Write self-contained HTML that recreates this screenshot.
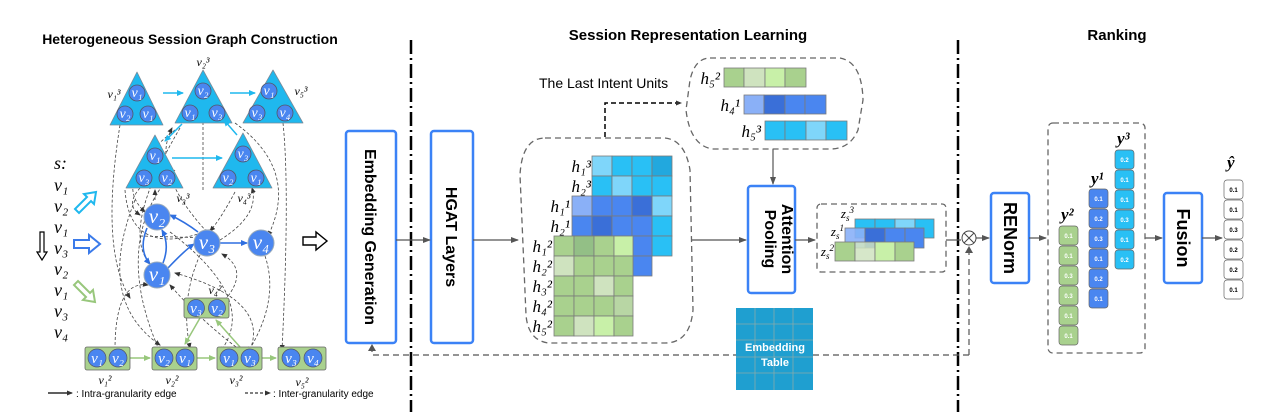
<!DOCTYPE html>
<html><head><meta charset="utf-8"><style>
body{margin:0;background:#fff}
svg{display:block}
text{font-family:"Liberation Sans",sans-serif}
.m text, text.m{font-family:"Liberation Serif","DejaVu Serif",serif;font-style:italic}
</style></head><body>
<svg width="1280" height="416" viewBox="0 0 1280 416" xmlns="http://www.w3.org/2000/svg">
<defs>
<marker id="a" markerWidth="8" markerHeight="8" refX="7" refY="4" orient="auto" markerUnits="userSpaceOnUse"><path d="M0,1 L8,4 L0,7z" fill="#555"/></marker>
<marker id="ak" markerWidth="6" markerHeight="6" refX="5" refY="3" orient="auto" markerUnits="userSpaceOnUse"><path d="M0,0.5 L6,3 L0,5.5z" fill="#333"/></marker>
<marker id="ac" markerWidth="7" markerHeight="7" refX="6" refY="3.5" orient="auto" markerUnits="userSpaceOnUse"><path d="M0,0.5 L7,3.5 L0,6.5z" fill="#1fb8ee"/></marker>
<marker id="ab" markerWidth="7" markerHeight="7" refX="6" refY="3.5" orient="auto" markerUnits="userSpaceOnUse"><path d="M0,0.5 L7,3.5 L0,6.5z" fill="#2f6fe0"/></marker>
<marker id="ag" markerWidth="7" markerHeight="7" refX="6" refY="3.5" orient="auto" markerUnits="userSpaceOnUse"><path d="M0,0.5 L7,3.5 L0,6.5z" fill="#98c77c"/></marker>
</defs>

<text x="190" y="44" font-size="14" font-weight="bold" text-anchor="middle">Heterogeneous Session Graph Construction</text>
<text x="688" y="40" font-size="15" font-weight="bold" text-anchor="middle">Session Representation Learning</text>
<text x="1117" y="40" font-size="15" font-weight="bold" text-anchor="middle">Ranking</text>

<line x1="411" y1="40" x2="411" y2="412" stroke="#000" stroke-width="2.5" stroke-dasharray="14,4,2,4"/>
<line x1="958" y1="40" x2="958" y2="412" stroke="#000" stroke-width="2.5" stroke-dasharray="14,4,2,4"/>

<g fill="none" stroke="#444" stroke-width="0.8" stroke-dasharray="3,2" marker-end="url(#ak)">
<path d="M120,125 Q100,250 130,298"/>
<path d="M175,130 Q110,180 145,212"/>
<path d="M180,128 Q120,230 150,264"/>
<path d="M203,190 L203,88"/>
<path d="M235,123 Q300,170 268,236"/>
<path d="M283,123 Q290,190 282,350"/>
<path d="M207,232 Q150,170 172,128"/>
<path d="M140,188 Q125,205 140,215"/>
<path d="M155,200 L155,190"/>
<path d="M235,192 Q220,220 210,231"/>
<path d="M175,170 Q110,240 160,352"/>
<path d="M115,350 Q115,280 148,285"/>
<path d="M200,255 Q180,300 190,348"/>
<path d="M225,300 Q250,270 222,254"/>
<path d="M265,256 Q280,300 248,352"/>
<path d="M170,232 Q260,300 220,352"/>
<path d="M250,350 Q270,300 175,273"/>
<path d="M220,240 Q260,215 252,188"/>
<path d="M135,200 Q95,300 160,345"/>
<path d="M125,190 Q130,260 210,230"/>
<path d="M240,350 Q200,320 170,285"/>
<path d="M140,236 L210,238"/>
</g>

<g fill="#1fb8ee" stroke="#7a8a99" stroke-width="0.8" stroke-linejoin="round">
<path d="M137,72 L163,125 L110,125Z"/>
<path d="M203,70 L232,123 L175,123Z"/>
<path d="M273,70 L303,123 L243,123Z"/>
<path d="M155,135 L183,188 L126,188Z"/>
<path d="M243,133 L272,188 L213,188Z"/>
</g>
<g stroke="#1fb8ee" stroke-width="1.5" fill="none">
<line x1="163" y1="93" x2="183" y2="93" marker-end="url(#ac)"/>
<line x1="230" y1="93" x2="255" y2="93" marker-end="url(#ac)"/>
<line x1="182" y1="124" x2="165" y2="141" marker-end="url(#ac)"/>
<line x1="172" y1="158" x2="222" y2="158" marker-end="url(#ac)"/>
<line x1="237" y1="135" x2="224" y2="120" marker-end="url(#ac)"/>
</g>
<g fill="#4a86f0" stroke="#556" stroke-width="0.8">
<circle cx="137" cy="93" r="8"/><circle cx="125" cy="114" r="8"/><circle cx="148" cy="114" r="8"/>
<circle cx="203" cy="91" r="8"/><circle cx="190" cy="113" r="8"/><circle cx="217" cy="113" r="8"/>
<circle cx="269" cy="91" r="8"/><circle cx="257" cy="113" r="8"/><circle cx="285" cy="113" r="8"/>
<circle cx="155" cy="156" r="8"/><circle cx="144" cy="178" r="8"/><circle cx="167" cy="178" r="8"/>
<circle cx="243" cy="154" r="8"/><circle cx="228" cy="178" r="8"/><circle cx="256" cy="178" r="8"/>
</g>
<g class="m" fill="#fff" font-size="14" text-anchor="middle">
<text x="137" y="97">v₁</text><text x="125" y="118">v₂</text><text x="148" y="118">v₁</text>
<text x="203" y="95">v₂</text><text x="190" y="117">v₁</text><text x="217" y="117">v₃</text>
<text x="269" y="95">v₁</text><text x="257" y="117">v₃</text><text x="285" y="117">v₄</text>
<text x="155" y="160">v₁</text><text x="144" y="182">v₃</text><text x="167" y="182">v₂</text>
<text x="243" y="158">v₃</text><text x="228" y="182">v₂</text><text x="256" y="182">v₁</text>
</g>
<g class="m" font-size="12" text-anchor="middle">
<text x="114" y="98">v₁³</text><text x="203" y="66">v₂³</text><text x="301" y="95">v₅³</text>
<text x="183" y="202">v₃³</text><text x="244" y="202">v₄³</text>
</g>

<g stroke="#2f6fe0" stroke-width="1.6" fill="none">
<path d="M147,228 Q138,250 150,264" marker-end="url(#ab)"/>
<path d="M163,263 Q170,245 162,230" marker-end="url(#ab)"/>
<path d="M168,268 Q185,250 194,244" marker-end="url(#ab)"/>
<path d="M198,232 Q185,222 170,215" marker-end="url(#ab)"/>
<line x1="220" y1="243" x2="247" y2="243" marker-end="url(#ab)"/>
</g>
<g fill="#4a86f0" stroke="#9ab" stroke-width="1">
<circle cx="157" cy="217" r="13"/><circle cx="207" cy="243" r="13"/><circle cx="261" cy="243" r="13"/><circle cx="157" cy="275" r="13"/>
</g>
<g class="m" fill="#fff" font-size="21" text-anchor="middle">
<text x="157" y="223">v₂</text><text x="207" y="249">v₃</text><text x="261" y="249">v₄</text><text x="157" y="281">v₁</text>
</g>

<g stroke="#98c77c" stroke-width="1.5">
<line x1="130" y1="358" x2="150" y2="358" marker-end="url(#ag)"/>
<line x1="197" y1="358" x2="215" y2="358" marker-end="url(#ag)"/>
<line x1="262" y1="358" x2="276" y2="358" marker-end="url(#ag)"/>
<line x1="200" y1="318" x2="185" y2="344" marker-end="url(#ag)"/>
<line x1="240" y1="347" x2="216" y2="320" marker-end="url(#ag)"/>
</g>
<g fill="#a9d18e" stroke="#666" stroke-width="0.8">
<rect x="184" y="298" width="45" height="20" rx="2"/>
<rect x="85" y="347" width="45" height="23" rx="2"/>
<rect x="152" y="347" width="45" height="23" rx="2"/>
<rect x="217" y="347" width="45" height="23" rx="2"/>
<rect x="278" y="347" width="48" height="23" rx="2"/>
</g>
<g fill="#4a86f0" stroke="#556" stroke-width="0.7">
<circle cx="196" cy="308" r="8.5"/><circle cx="217" cy="308" r="8.5"/>
<circle cx="97" cy="358" r="9"/><circle cx="118" cy="358" r="9"/>
<circle cx="164" cy="358" r="9"/><circle cx="185" cy="358" r="9"/>
<circle cx="229" cy="358" r="9"/><circle cx="250" cy="358" r="9"/>
<circle cx="291" cy="358" r="9"/><circle cx="313" cy="358" r="9"/>
</g>
<g class="m" fill="#fff" font-size="15" text-anchor="middle">
<text x="196" y="313">v₃</text><text x="217" y="313">v₂</text>
<text x="97" y="363">v₁</text><text x="118" y="363">v₂</text>
<text x="164" y="363">v₂</text><text x="185" y="363">v₁</text>
<text x="229" y="363">v₁</text><text x="250" y="363">v₃</text>
<text x="291" y="363">v₃</text><text x="313" y="363">v₄</text>
</g>
<g class="m" font-size="12" text-anchor="middle">
<text x="215" y="294">v₄²</text><text x="105" y="384">v₁²</text><text x="172" y="384">v₂²</text>
<text x="236" y="384">v₃²</text><text x="302" y="386">v₅²</text>
</g>

<g class="m" font-size="18">
<text x="54" y="169">s:</text>
<text x="54" y="191">v₁</text><text x="54" y="212">v₂</text><text x="54" y="233">v₁</text>
<text x="54" y="254">v₃</text><text x="54" y="275">v₂</text><text x="54" y="296">v₁</text>
<text x="54" y="317">v₃</text><text x="54" y="338">v₄</text>
</g>
<path d="M40,232 h4 v20 h3 l-5,8 l-5,-8 h3z" fill="#fff" stroke="#000" stroke-width="1.2"/>
<path d="M75,209 l12,-12 l-3,-3 l12,-2 l-2,12 l-3,-3 l-12,12z" fill="#fff" stroke="#1fb8ee" stroke-width="2"/>
<path d="M74,240 h15 v-5 l11,9 l-11,9 v-5 h-15z" fill="#fff" stroke="#3b7bea" stroke-width="2"/>
<path d="M78,281 l12,12 l3,-3 l2,12 l-12,-2 l3,-3 l-12,-12z" fill="#fff" stroke="#98c77c" stroke-width="2"/>
<path d="M303,237 h13 v-5 l11,9 l-11,9 v-5 h-13z" fill="#fff" stroke="#000" stroke-width="1.4"/>

<line x1="48" y1="393" x2="72" y2="393" stroke="#000" stroke-width="1.2" marker-end="url(#ak)"/>
<text x="76" y="397" font-size="10">: Intra-granularity edge</text>
<line x1="245" y1="393" x2="270" y2="393" stroke="#000" stroke-width="1" stroke-dasharray="3,2" marker-end="url(#ak)"/>
<text x="273" y="397" font-size="10">: Inter-granularity edge</text>

<g fill="#fff" stroke="#3b82f6" stroke-width="2.5">
<rect x="346" y="131" width="50" height="212" rx="3"/>
<rect x="431" y="131" width="42" height="212" rx="3"/>
<rect x="748" y="186" width="47" height="107" rx="3"/>
<rect x="991" y="193" width="38" height="90" rx="3"/>
<rect x="1164" y="193" width="38" height="90" rx="3"/>
</g>
<g font-size="16" font-weight="bold" text-anchor="middle">
<text transform="translate(365,237) rotate(90)">Embedding Generation</text>
<text transform="translate(446,237) rotate(90)">HGAT Layers</text>
<text transform="translate(782,239) rotate(90)">Attention</text>
<text transform="translate(765,239) rotate(90)">Pooling</text>
<text font-size="18" transform="translate(1004,238) rotate(90)">RENorm</text>
<text font-size="18" transform="translate(1177,238) rotate(90)">Fusion</text>
</g>

<g stroke="#555" stroke-width="1.2" fill="none">
<line x1="396" y1="240" x2="430" y2="240" marker-end="url(#a)"/>
<line x1="473" y1="240" x2="518" y2="240" marker-end="url(#a)"/>
<line x1="692" y1="240" x2="746" y2="240" marker-end="url(#a)"/>
<line x1="773" y1="149" x2="773" y2="184" marker-end="url(#a)"/>
<line x1="795" y1="240" x2="815" y2="240" marker-end="url(#a)"/>
<line x1="946" y1="240" x2="961" y2="240"/>
<line x1="976" y1="238" x2="989" y2="238" marker-end="url(#a)"/>
<line x1="1029" y1="238" x2="1046" y2="238" marker-end="url(#a)"/>
<line x1="1145" y1="238" x2="1162" y2="238" marker-end="url(#a)"/>
<line x1="1202" y1="238" x2="1222" y2="238" marker-end="url(#a)"/>
</g>
<polyline points="605,137 605,103 681,103" fill="none" stroke="#000" stroke-width="1.5" stroke-dasharray="5,3" marker-end="url(#ak)"/>
<g stroke="#555" stroke-width="1.2" fill="none" stroke-dasharray="6,4">
<polyline points="969,355 372,355 372,346"/>
<line x1="969" y1="355" x2="969" y2="248"/>
</g>
<path d="M368,351 L372,344 L376,351z" fill="#555"/>
<path d="M965,253 L969,246 L973,253z" fill="#555"/>
<circle cx="969" cy="238" r="7" fill="#fff" stroke="#444" stroke-width="1"/>
<path d="M964,233 L974,243 M974,233 L964,243" stroke="#444" stroke-width="1"/>

<g fill="none" stroke="#666" stroke-width="1.3" stroke-dasharray="6,4">
<path d="M545,138 H665 Q685,140 690,170 L693,310 Q690,343 665,343 H548 Q528,340 526,315 L520,175 Q522,138 545,138Z"/>
<path d="M710,58 H840 Q862,62 863,100 L858,130 Q850,149 830,149 H712 Q690,145 686,110 L690,80 Q695,58 710,58Z"/>
<rect x="817" y="204" width="129" height="68" rx="4"/>
<rect x="1048" y="123" width="97" height="230" rx="5"/>
</g>
<text x="539" y="88" font-size="14">The Last Intent Units</text>

<g stroke="#7a7a7a" stroke-width="0.8">
<g fill="#29c0f5">
<rect x="592" y="156" width="20" height="20" fill="#7fd6fa"/><rect x="612" y="156" width="20" height="20"/><rect x="632" y="156" width="20" height="20"/><rect x="652" y="156" width="20" height="20" fill="#22a8de"/>
<rect x="592" y="176" width="20" height="20"/><rect x="612" y="176" width="20" height="20" fill="#7fd6fa"/><rect x="632" y="176" width="20" height="20"/><rect x="652" y="176" width="20" height="20"/>
<rect x="652" y="196" width="20" height="20" fill="#7fd6fa"/><rect x="652" y="216" width="20" height="20"/><rect x="652" y="236" width="20" height="20"/>
</g>
<g fill="#4a86f0">
<rect x="572" y="196" width="20" height="20" fill="#8ab0f7"/><rect x="592" y="196" width="20" height="20"/><rect x="612" y="196" width="20" height="20"/><rect x="632" y="196" width="20" height="20" fill="#3a6fd8"/>
<rect x="572" y="216" width="20" height="20"/><rect x="592" y="216" width="20" height="20" fill="#3a6fd8"/><rect x="612" y="216" width="20" height="20"/><rect x="632" y="216" width="20" height="20"/>
<rect x="632" y="236" width="20" height="20"/><rect x="632" y="256" width="20" height="20"/>
</g>
<g fill="#a9d18e">
<rect x="554" y="236" width="20" height="20"/><rect x="574" y="236" width="20" height="20" fill="#93bf86"/><rect x="594" y="236" width="20" height="20"/><rect x="614" y="236" width="19" height="20" fill="#c8f0a8"/>
<rect x="554" y="256" width="20" height="20" fill="#cfe3bf"/><rect x="574" y="256" width="20" height="20"/><rect x="594" y="256" width="20" height="20"/><rect x="614" y="256" width="19" height="20"/>
<rect x="554" y="276" width="20" height="20"/><rect x="574" y="276" width="20" height="20"/><rect x="594" y="276" width="20" height="20" fill="#cfe3bf"/><rect x="614" y="276" width="19" height="20"/>
<rect x="554" y="296" width="20" height="20"/><rect x="574" y="296" width="20" height="20"/><rect x="594" y="296" width="20" height="20"/><rect x="614" y="296" width="19" height="20" fill="#b8d6a4"/>
<rect x="554" y="316" width="20" height="20"/><rect x="574" y="316" width="20" height="20" fill="#cfe3bf"/><rect x="594" y="316" width="20" height="20" fill="#c8f0a8"/><rect x="614" y="316" width="19" height="20"/>
</g>
<rect x="724" y="68" width="20" height="19" fill="#a9d18e"/><rect x="744" y="68" width="21" height="19" fill="#cfe3bf"/><rect x="765" y="68" width="20" height="19" fill="#c8f0a8"/><rect x="785" y="68" width="21" height="19" fill="#a9d18e"/>
<rect x="744" y="95" width="20" height="19" fill="#8ab0f7"/><rect x="764" y="95" width="21" height="19" fill="#3a6fd8"/><rect x="785" y="95" width="20" height="19" fill="#4a86f0"/><rect x="805" y="95" width="21" height="19" fill="#4a86f0"/>
<rect x="765" y="121" width="20" height="19" fill="#29c0f5"/><rect x="785" y="121" width="21" height="19" fill="#29c0f5"/><rect x="806" y="121" width="20" height="19" fill="#7fd6fa"/><rect x="826" y="121" width="21" height="19" fill="#29c0f5"/>
<rect x="855" y="219" width="20" height="19" fill="#29c0f5"/><rect x="875" y="219" width="20" height="19" fill="#29c0f5"/><rect x="895" y="219" width="20" height="19" fill="#7fd6fa"/><rect x="915" y="219" width="19" height="19" fill="#29c0f5"/>
<rect x="845" y="228" width="20" height="20" fill="#8ab0f7" fill-opacity="0.9"/><rect x="865" y="228" width="20" height="20" fill="#3a6fd8"/><rect x="885" y="228" width="20" height="20" fill="#4a86f0"/><rect x="905" y="228" width="19" height="20" fill="#4a86f0"/>
<rect x="835" y="242" width="20" height="19" fill="#a9d18e"/><rect x="855" y="242" width="20" height="19" fill="#cfe3bf" fill-opacity="0.85"/><rect x="875" y="242" width="20" height="19" fill="#c8f0a8"/><rect x="895" y="242" width="19" height="19" fill="#a9d18e"/>
</g>
<g class="m" font-size="17" text-anchor="end">
<text x="591" y="172">h₁³</text><text x="591" y="192">h₂³</text>
<text x="570" y="212">h₁¹</text><text x="570" y="232">h₂¹</text>
<text x="552" y="252">h₁²</text><text x="552" y="272">h₂²</text><text x="552" y="292">h₃²</text><text x="552" y="312">h₄²</text><text x="552" y="332">h₅²</text>
<text x="720" y="84">h₅²</text><text x="740" y="111">h₄¹</text><text x="761" y="137">h₅³</text>
</g>
<g class="m" font-size="13" text-anchor="end">
<text x="854" y="218">z<tspan font-size="9" dy="3">s</tspan><tspan font-size="9" dy="-8">3</tspan></text>
<text x="844" y="236">z<tspan font-size="9" dy="3">s</tspan><tspan font-size="9" dy="-8">1</tspan></text>
<text x="834" y="256">z<tspan font-size="9" dy="3">s</tspan><tspan font-size="9" dy="-8">2</tspan></text>
</g>

<rect x="736" y="308" width="77" height="82" fill="#1f9fd0"/>
<g stroke="#8aa" stroke-width="0.8">
<line x1="755" y1="308" x2="755" y2="390"/><line x1="774" y1="308" x2="774" y2="390"/><line x1="793" y1="308" x2="793" y2="390"/>
<line x1="736" y1="324" x2="813" y2="324"/><line x1="736" y1="340" x2="813" y2="340"/><line x1="736" y1="357" x2="813" y2="357"/><line x1="736" y1="373" x2="813" y2="373"/>
</g>
<text x="775" y="351" font-size="11" font-weight="bold" fill="#fff" text-anchor="middle">Embedding</text>
<text x="775" y="366" font-size="11" font-weight="bold" fill="#fff" text-anchor="middle">Table</text>

<g stroke="#666" stroke-width="0.7">
<g fill="#a9d18e">
<rect x="1059" y="226" width="19" height="19" rx="3"/><rect x="1059" y="246" width="19" height="19" rx="3"/><rect x="1059" y="266" width="19" height="19" rx="3"/><rect x="1059" y="286" width="19" height="19" rx="3"/><rect x="1059" y="306" width="19" height="19" rx="3"/><rect x="1059" y="326" width="19" height="19" rx="3"/>
</g>
<g fill="#4a86f0">
<rect x="1089" y="189" width="19" height="19" rx="3"/><rect x="1089" y="209" width="19" height="19" rx="3"/><rect x="1089" y="229" width="19" height="19" rx="3"/><rect x="1089" y="249" width="19" height="19" rx="3"/><rect x="1089" y="269" width="19" height="19" rx="3"/><rect x="1089" y="289" width="19" height="19" rx="3"/>
</g>
<g fill="#29c0f5">
<rect x="1115" y="150" width="19" height="19" rx="3"/><rect x="1115" y="170" width="19" height="19" rx="3"/><rect x="1115" y="190" width="19" height="19" rx="3"/><rect x="1115" y="210" width="19" height="19" rx="3"/><rect x="1115" y="230" width="19" height="19" rx="3"/><rect x="1115" y="250" width="19" height="19" rx="3"/>
</g>
<g fill="#fff">
<rect x="1224" y="180" width="19" height="19" rx="3"/><rect x="1224" y="200" width="19" height="19" rx="3"/><rect x="1224" y="220" width="19" height="19" rx="3"/><rect x="1224" y="240" width="19" height="19" rx="3"/><rect x="1224" y="260" width="19" height="19" rx="3"/><rect x="1224" y="280" width="19" height="19" rx="3"/>
</g>
</g>
<g font-size="6" font-weight="bold" fill="#fff" text-anchor="middle">
<text x="1068.5" y="238">0.1</text><text x="1068.5" y="258">0.1</text><text x="1068.5" y="278">0.3</text><text x="1068.5" y="298">0.3</text><text x="1068.5" y="318">0.1</text><text x="1068.5" y="338">0.1</text>
<text x="1098.5" y="201">0.1</text><text x="1098.5" y="221">0.2</text><text x="1098.5" y="241">0.3</text><text x="1098.5" y="261">0.1</text><text x="1098.5" y="281">0.2</text><text x="1098.5" y="301">0.1</text>
<text x="1124.5" y="162">0.2</text><text x="1124.5" y="182">0.1</text><text x="1124.5" y="202">0.1</text><text x="1124.5" y="222">0.3</text><text x="1124.5" y="242">0.1</text><text x="1124.5" y="262">0.2</text>
</g>
<g font-size="6" font-weight="bold" fill="#000" text-anchor="middle">
<text x="1233.5" y="192">0.1</text><text x="1233.5" y="212">0.1</text><text x="1233.5" y="232">0.3</text><text x="1233.5" y="252">0.2</text><text x="1233.5" y="272">0.2</text><text x="1233.5" y="292">0.1</text>
</g>
<g class="m" font-size="17" font-weight="bold">
<text x="1061" y="220">y²</text><text x="1091" y="184">y¹</text><text x="1117" y="144">y³</text>
<text x="1227" y="168">ŷ</text>
</g>
</svg>
</body></html>
